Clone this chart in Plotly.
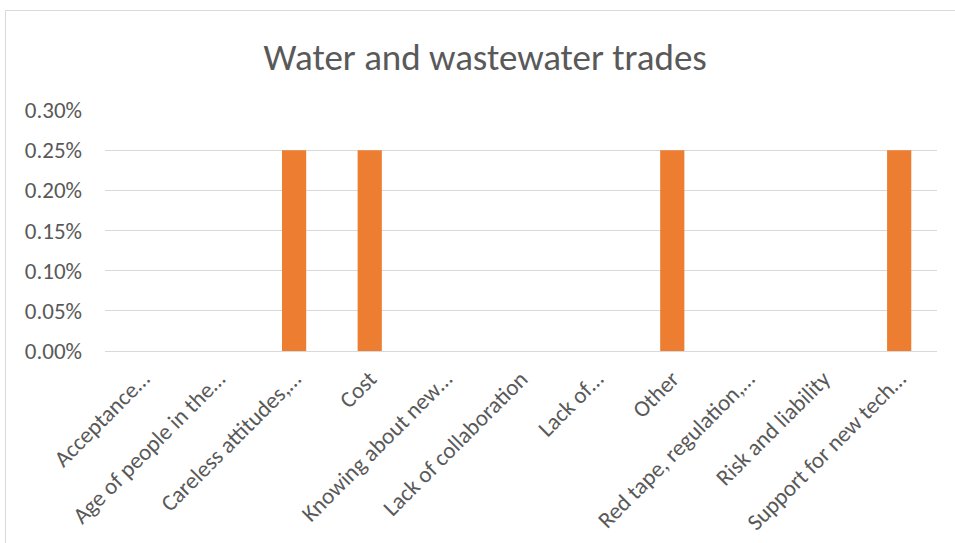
import plotly.graph_objects as go

# data
categories = [
    "Acceptance…",
    "Age of people in the…",
    "Careless attitudes,…",
    "Cost",
    "Knowing about new…",
    "Lack of collaboration",
    "Lack of…",
    "Other",
    "Red tape, regulation,…",
    "Risk and liability",
    "Support for new tech…",
]
values = [0, 0, 0.0025, 0.0025, 0, 0, 0, 0.0025, 0, 0, 0.0025]
y_ticks = [0, 0.0005, 0.001, 0.0015, 0.002, 0.0025, 0.003]

FONT = "Calibri, Carlito, Open Sans, sans-serif"
GREY = "#595959"

fig = go.Figure(
    data=[
        go.Bar(
            x=categories,
            y=values,
            marker=dict(color="#ED7D31", line=dict(width=0)),
        )
    ]
)

# chart frame (only top and left edges show in the crop)
left = (5.5 - 105) / 832
top = (351 - 10.5) / 241
fig.add_shape(
    type="path",
    xref="paper", yref="paper",
    path=f"M {left} -1 L {left} {top} L 1.2 {top}",
    line=dict(color="#D9D9D9", width=1),
)

fig.update_xaxes(
    tickangle=-45,
    tickfont=dict(family=FONT, size=23, color=GREY),
    showgrid=False,
    showline=False,
    ticks="",
    ticklabelstandoff=9,
    automargin=False,
)
fig.update_yaxes(
    range=[0, 0.003],
    tickvals=y_ticks,
    tickformat=".2%",
    tickfont=dict(family=FONT, size=23, color=GREY),
    showgrid=True,
    gridcolor="#D9D9D9",
    gridwidth=1,
    zeroline=True,
    zerolinecolor="#D9D9D9",
    zerolinewidth=1,
    showline=False,
    ticks="",
    ticklabelstandoff=22,
    automargin=False,
)
fig.update_layout(
    width=955,
    height=543,
    margin=dict(l=105, r=18, t=110, b=192),
    paper_bgcolor="white",
    plot_bgcolor="white",
    bargap=0.68,
    showlegend=False,
    title=dict(
        text="Water and wastewater trades",
        x=0.508, xanchor="center",
        y=1 - 57 / 543, yanchor="middle",
        font=dict(family=FONT, size=37, color=GREY),
    ),
)

# drop the browser's default body margin so the figure sits at the page corner
fig.write_html(
    "out.html",
    config={"displayModeBar": False},
    post_script="document.body.style.margin='0';",
)
